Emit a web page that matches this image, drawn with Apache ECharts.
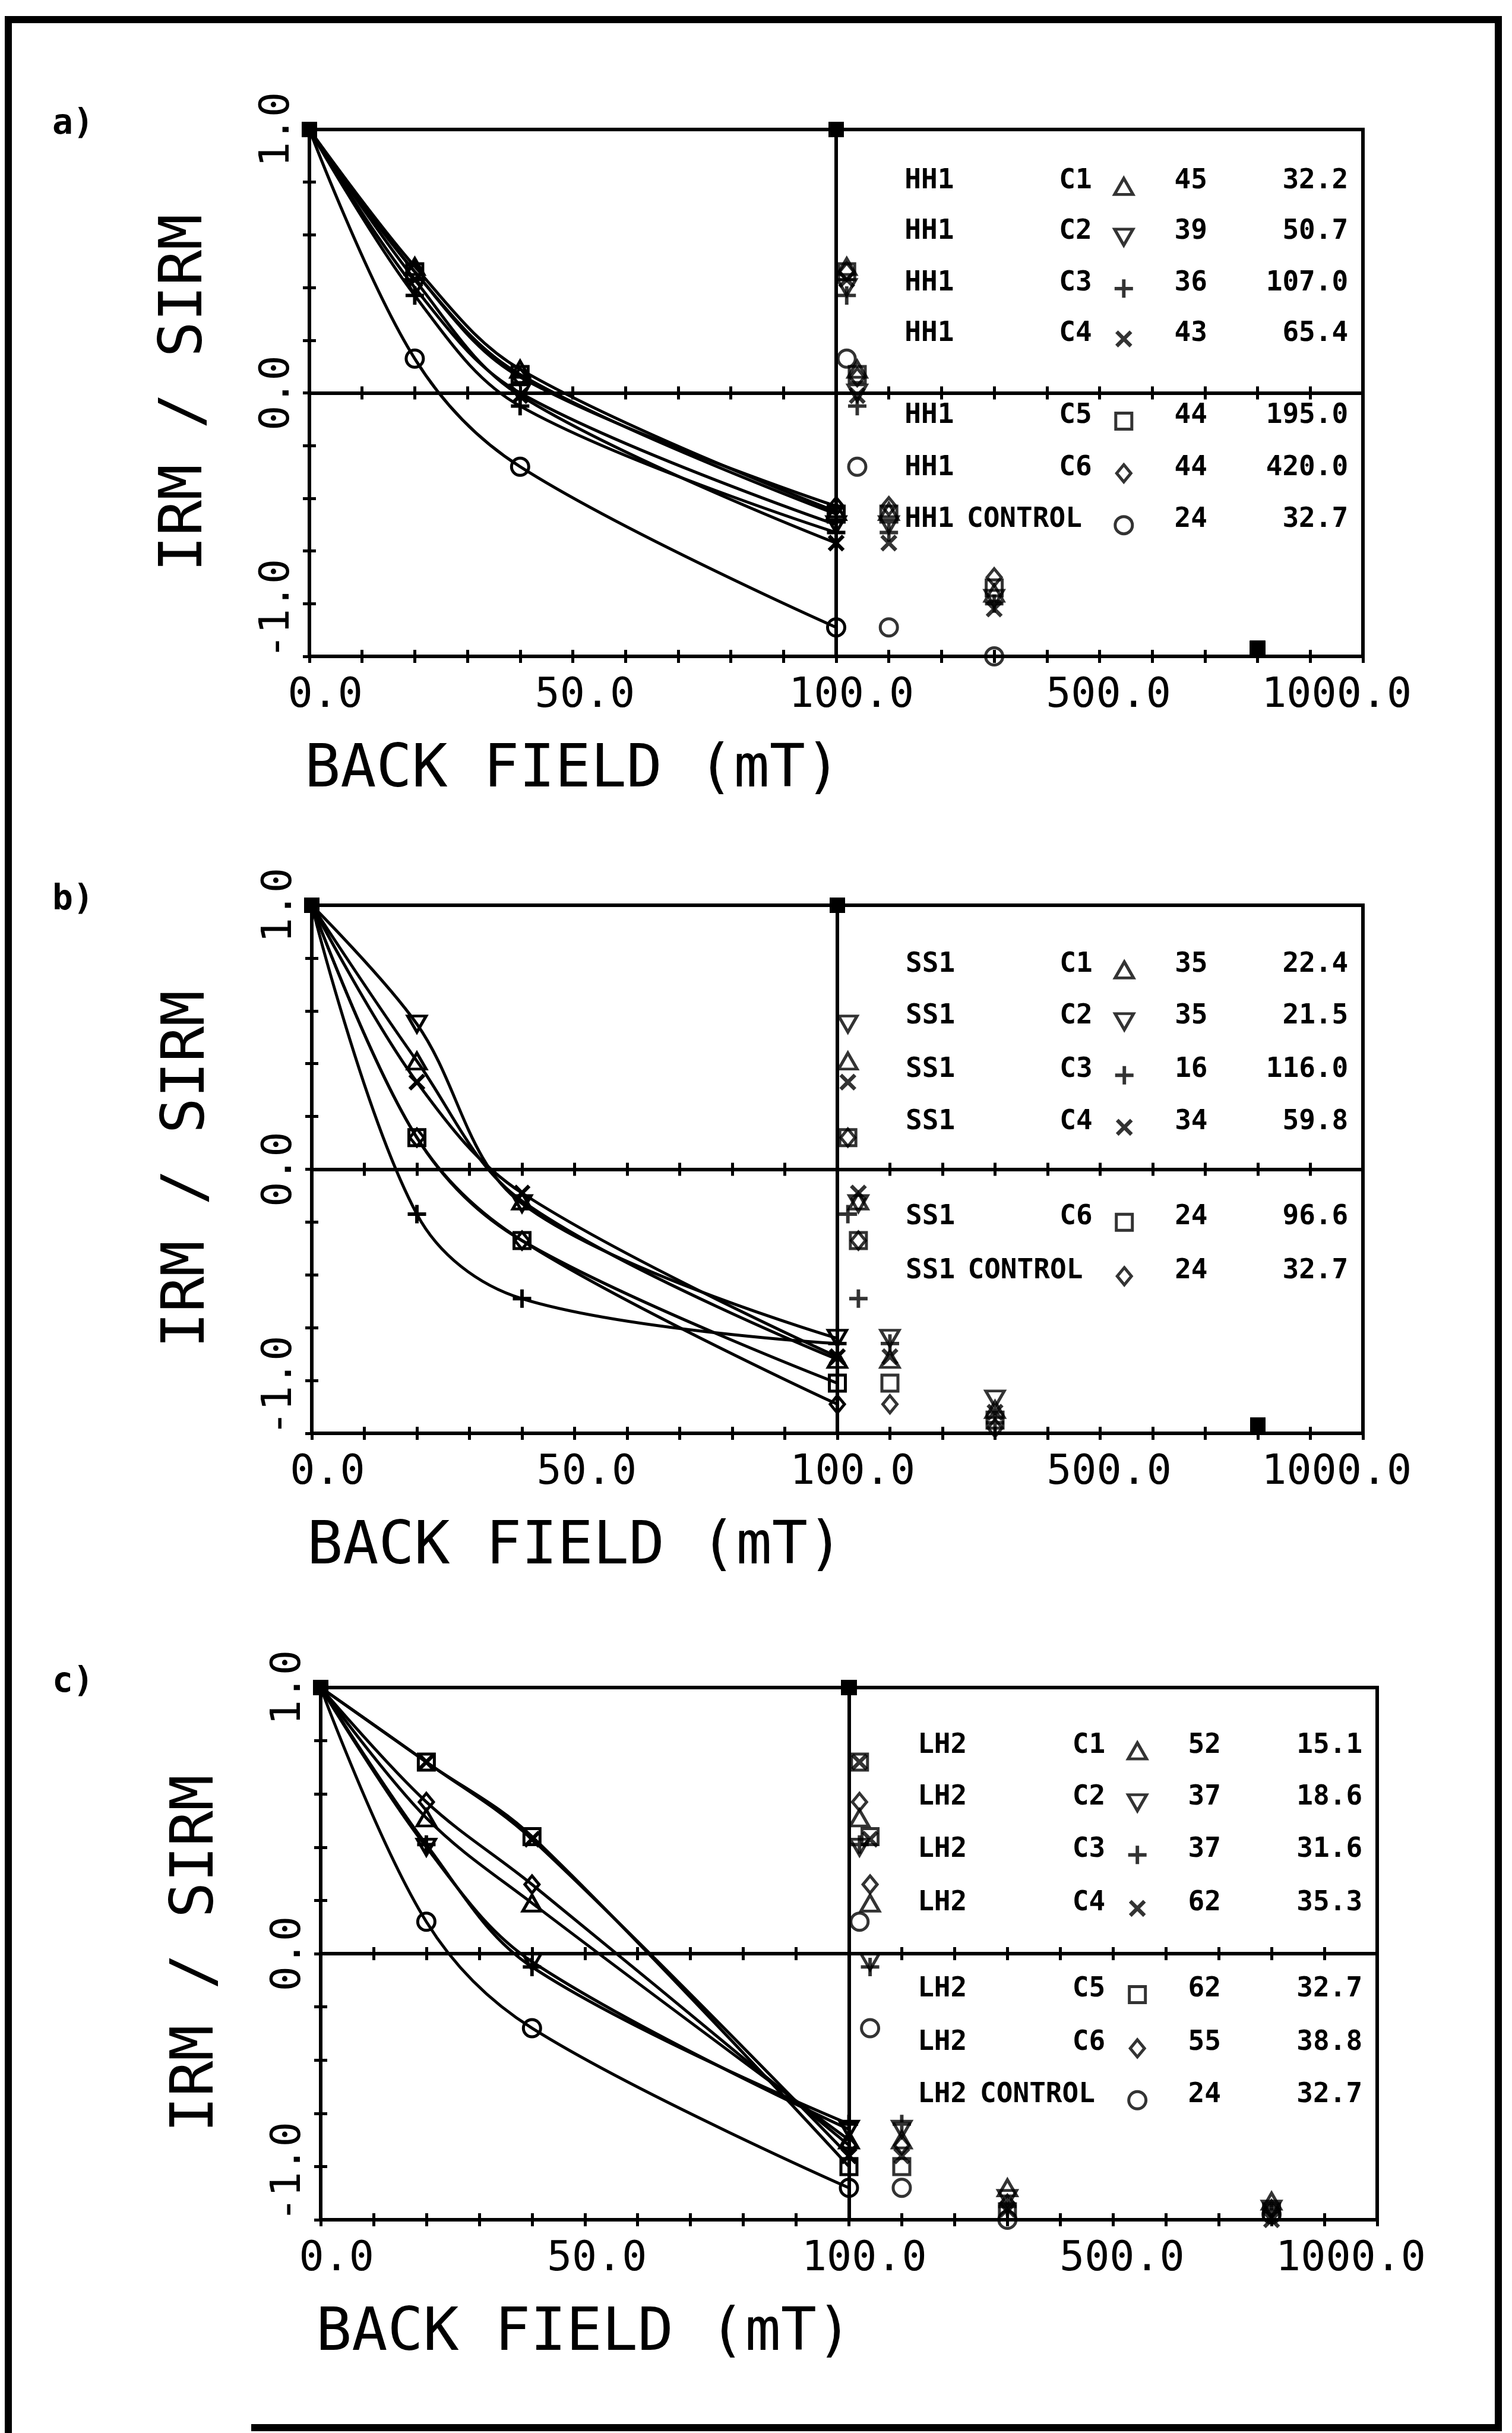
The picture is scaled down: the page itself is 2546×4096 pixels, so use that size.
<!DOCTYPE html>
<html><head><meta charset="utf-8">
<script src="https://cdn.jsdelivr.net/npm/echarts@6/dist/echarts.min.js"></script>
<style>html,body{margin:0;padding:0;background:#fff}#c{width:2546px;height:4096px}</style>
</head><body><div id="c"></div>
<script>
// ================= DATA =================
// back-field steps (mT); <=100 mT plotted on the linear 0-100 scale (with curves),
// all steps re-plotted as points on the 0-1000 mT scale to the right of the 100 line
const fields = [0, 20, 40, 100, 300, 800];
const xTickValues = [0, 50, 100, 500, 1000];
const xTickScale  = ['L', 'L', 'L', 'R', 'R'];
const xTickLabels = ['0.0', '50.0', '100.0', '500.0', '1000.0'];
const yTickValues = [-1, 0, 1];
const yTickLabels = ['-1.0', '0.0', '1.0'];

// ---- panel a) HH1 ----
const hh1Codes   = ['C1', 'C2', 'C3', 'C4', 'C5', 'C6', 'CONTROL'];
const hh1Symbols = ['up', 'down', 'plus', 'cross', 'square', 'diamond', 'circle'];
const hh1Counts  = [45, 39, 36, 43, 44, 44, 24];
const hh1Values  = [32.2, 50.7, 107.0, 65.4, 195.0, 420.0, 32.7];
const hh1_C1 = [1.0, 0.48, 0.09, -0.45, -0.76, -0.97];
const hh1_C2 = [1.0, 0.40, 0.00, -0.50, -0.78, -0.97];
const hh1_C3 = [1.0, 0.37, -0.05, -0.53, -0.80, -0.97];
const hh1_C4 = [1.0, 0.43, -0.01, -0.57, -0.82, -0.97];
const hh1_C5 = [1.0, 0.46, 0.07, -0.46, -0.74, -0.97];
const hh1_C6 = [1.0, 0.46, 0.06, -0.43, -0.70, -0.97];
const hh1_CTRL = [1.0, 0.13, -0.28, -0.89, -1.0, -0.97];

// ---- panel b) SS1 ----
const ss1Codes   = ['C1', 'C2', 'C3', 'C4', 'C6', 'CONTROL'];
const ss1Symbols = ['up', 'down', 'plus', 'cross', 'square', 'diamond'];
const ss1Counts  = [35, 35, 16, 34, 24, 24];
const ss1Values  = [22.4, 21.5, 116.0, 59.8, 96.6, 32.7];
const ss1_C1 = [1.0, 0.41, -0.12, -0.72, -0.91, -0.97];
const ss1_C2 = [1.0, 0.55, -0.13, -0.64, -0.87, -0.97];
const ss1_C3 = [1.0, -0.17, -0.49, -0.66, -0.96, -0.97];
const ss1_C4 = [1.0, 0.33, -0.09, -0.71, -0.92, -0.97];
const ss1_C6 = [1.0, 0.12, -0.27, -0.81, -0.95, -0.97];
const ss1_CTRL = [1.0, 0.12, -0.27, -0.89, -0.98, -0.97];

// ---- panel c) LH2 ----
const lh2Codes   = ['C1', 'C2', 'C3', 'C4', 'C5', 'C6', 'CONTROL'];
const lh2Symbols = ['up', 'down', 'plus', 'cross', 'square', 'diamond', 'circle'];
const lh2Counts  = [52, 37, 37, 62, 62, 55, 24];
const lh2Values  = [15.1, 18.6, 31.6, 35.3, 32.7, 38.8, 32.7];
const lh2_C1 = [1.0, 0.51, 0.19, -0.70, -0.88, -0.93];
const lh2_C2 = [1.0, 0.40, -0.03, -0.66, -0.92, -0.96];
const lh2_C3 = [1.0, 0.41, -0.05, -0.64, -0.95, -0.97];
const lh2_C4 = [1.0, 0.72, 0.43, -0.76, -0.96, -1.0];
const lh2_C5 = [1.0, 0.72, 0.44, -0.80, -0.97, -0.97];
const lh2_C6 = [1.0, 0.57, 0.26, -0.72, -0.94, -0.96];
const lh2_CTRL = [1.0, 0.12, -0.28, -0.88, -1.0, -0.98];

const panels = [
  {tag: 'a)', sample: 'HH1', codes: hh1Codes, symbols: hh1Symbols, counts: hh1Counts, values: hh1Values,
   series: [hh1_C1, hh1_C2, hh1_C3, hh1_C4, hh1_C5, hh1_C6, hh1_CTRL]},
  {tag: 'b)', sample: 'SS1', codes: ss1Codes, symbols: ss1Symbols, counts: ss1Counts, values: ss1Values,
   series: [ss1_C1, ss1_C2, ss1_C3, ss1_C4, ss1_C6, ss1_CTRL]},
  {tag: 'c)', sample: 'LH2', codes: lh2Codes, symbols: lh2Symbols, counts: lh2Counts, values: lh2Values,
   series: [lh2_C1, lh2_C2, lh2_C3, lh2_C4, lh2_C5, lh2_C6, lh2_CTRL]},
];

// ================= LAYOUT / STYLE =================
const MONO = '"DejaVu Sans Mono", "Liberation Mono", monospace';
const BOX = [
  {left: 521, top: 218, width: 1774, height: 887},
  {left: 525, top: 1524, width: 1770, height: 889},
  {left: 540, top: 2841, width: 1779, height: 896},
];
const LABEL_NUDGE = [3.0, 2.3, 2.9, 1.7, -5.0];
const Y_LABEL_POS = [-0.82, 0, 1];
const LEGEND_ROWS = [
  [0.804, 0.611, 0.416, 0.225, -0.087, -0.285, -0.482],
  [0.775, 0.579, 0.376, 0.179, -0.181, -0.385],
  [0.782, 0.587, 0.391, 0.19, -0.134, -0.336, -0.531],
];
const LEGEND_COLS = {name: 113, control: 124.8, code: 142.3, symbol: 154.6, count: 164.2, value: 197.2};

const PLUS = 'path://M-1.9,-10L1.9,-10L1.9,-1.9L10,-1.9L10,1.9L1.9,1.9L1.9,10L-1.9,10L-1.9,1.9L-10,1.9L-10,-1.9L-1.9,-1.9Z';
const SYM = {
  up:      {symbol: 'triangle', rotate: 0,   size: [31, 27], fill: false},
  down:    {symbol: 'triangle', rotate: 180, size: [31, 27], fill: false},
  plus:    {symbol: PLUS,       rotate: 0,   size: 31,       fill: true},
  cross:   {symbol: PLUS,       rotate: 45,  size: 34,       fill: true},
  square:  {symbol: 'rect',     rotate: 0,   size: 27,       fill: false},
  diamond: {symbol: 'diamond',  rotate: 0,   size: [24, 29], fill: false},
  circle:  {symbol: 'circle',   rotate: 0,   size: 29,       fill: false},
};

function toDisp(f, scale) { return scale === 'L' ? f : 100 + f / 10; }
const xLabelPos = xTickValues.map((v, i) => +(toDisp(v, xTickScale[i]) + LABEL_NUDGE[i]).toFixed(2));

function item(x, v, sym, solid) {
  if (solid) {
    return {value: [x, v], symbol: 'rect', symbolSize: 26, symbolRotate: 0,
            itemStyle: {color: '#000', borderWidth: 0}};
  }
  return {value: [x, v], symbol: sym.symbol, symbolSize: sym.size, symbolRotate: sym.rotate,
    itemStyle: sym.fill ? {color: '#000', borderWidth: 0}
                        : {color: 'rgba(0,0,0,0)', borderColor: '#000', borderWidth: 5}};
}

const grids = [], xAxes = [], yAxes = [], series = [], graphics = [];
const AXW = 6, TICKL = 11, TICKW = 5;

panels.forEach((P, p) => {
  const b = BOX[p];
  grids.push({left: b.left, top: b.top, width: b.width, height: b.height,
              show: true, borderColor: '#000', borderWidth: AXW, backgroundColor: 'transparent'});
  const xBase = {gridIndex: p, type: 'value', min: 0, max: 200, interval: 10, position: 'bottom',
                 splitLine: {show: false}};
  xAxes.push(Object.assign({}, xBase, {
    axisLine: {show: true, onZero: false, lineStyle: {color: '#000', width: AXW}},
    axisTick: {show: true, inside: false, length: TICKL, lineStyle: {color: '#000', width: TICKW}},
    axisLabel: {show: true, customValues: xLabelPos, margin: 32,
      formatter: v => xTickLabels[xLabelPos.indexOf(v)] || '',
      fontFamily: MONO, fontSize: 70, color: '#000'}
  }));
  xAxes.push(Object.assign({}, xBase, {
    axisLine: {show: false, onZero: false},
    axisTick: {show: true, inside: true, length: TICKL, lineStyle: {color: '#000', width: TICKW}},
    axisLabel: {show: false}
  }));
  xAxes.push(Object.assign({}, xBase, {
    axisLine: {show: true, onZero: true, lineStyle: {color: '#000', width: AXW}},
    axisTick: {show: true, inside: false, length: TICKL, lineStyle: {color: '#000', width: TICKW}},
    axisLabel: {show: false}
  }));
  xAxes.push(Object.assign({}, xBase, {
    axisLine: {show: false, onZero: true},
    axisTick: {show: true, inside: true, length: TICKL, lineStyle: {color: '#000', width: TICKW}},
    axisLabel: {show: false}
  }));
  const yBase = {gridIndex: p, type: 'value', min: -1, max: 1, interval: 0.2, position: 'left',
                 splitLine: {show: false}};
  yAxes.push(Object.assign({}, yBase, {
    axisLine: {show: true, onZero: false, lineStyle: {color: '#000', width: AXW}},
    axisTick: {show: true, inside: false, length: TICKL, lineStyle: {color: '#000', width: TICKW}},
    axisLabel: {show: true, customValues: Y_LABEL_POS, rotate: 90, margin: 18,
      formatter: v => yTickLabels[Y_LABEL_POS.indexOf(v)] || '',
      fontFamily: MONO, fontSize: 70, color: '#000'},
    name: 'IRM / SIRM', nameLocation: 'middle', nameGap: 158,
    nameTextStyle: {fontFamily: MONO, fontSize: 100, color: '#000'}
  }));
  yAxes.push(Object.assign({}, yBase, {
    axisLine: {show: false, onZero: false},
    axisTick: {show: true, inside: true, length: TICKL, lineStyle: {color: '#000', width: TICKW}},
    axisLabel: {show: false}
  }));

  const xi = p * 4, yi = p * 2;
  const coincident = fields.map((f, i) => P.series.every(s => s[i] === P.series[0][i]));
  P.series.forEach((vals, k) => {
    const sym = SYM[P.symbols[k]];
    const lineData = [];
    fields.forEach((f, i) => { if (f <= 100) lineData.push(item(toDisp(f, 'L'), vals[i], sym, coincident[i])); });
    const s = {type: 'line', xAxisIndex: xi, yAxisIndex: yi, data: lineData, smooth: 0.35,
      showAllSymbol: true, lineStyle: {color: '#000', width: 5}, silent: true, z: 2};
    if (k === 0) {
      s.markLine = {silent: true, symbol: 'none', label: {show: false},
        lineStyle: {color: '#000', width: AXW, type: 'solid'}, data: [{xAxis: 100}]};
    }
    series.push(s);
    series.push({type: 'scatter', xAxisIndex: xi, yAxisIndex: yi, silent: true, z: 3,
      data: fields.map((f, i) => item(toDisp(f, 'R'), vals[i], sym, coincident[i]))});
  });

  // legend table
  const px = d => b.left + d / 200 * b.width;
  const py = v => b.top + (1 - v) / 2 * b.height;
  const rows = LEGEND_ROWS[p];
  series.push({type: 'scatter', xAxisIndex: xi, yAxisIndex: yi, silent: true, z: 3,
    data: P.symbols.map((sn, k) => item(LEGEND_COLS.symbol, rows[k] - 0.02, SYM[sn], false))});
  const LF = 'bold 46px ' + MONO;
  const txt = (x, y, text, align) => graphics.push({type: 'text', x: x, y: y, silent: true,
    style: {text: text, font: LF, fill: '#000', align: align, verticalAlign: 'middle'}});
  P.codes.forEach((code, k) => {
    const y = py(rows[k]);
    txt(px(LEGEND_COLS.name), y, P.sample, 'left');
    if (code === 'CONTROL') txt(px(LEGEND_COLS.control), y, code, 'left');
    else txt(px(LEGEND_COLS.code), y, code, 'left');
    txt(px(LEGEND_COLS.count), y, String(P.counts[k]), 'left');
    txt(px(LEGEND_COLS.value), y, P.values[k].toFixed(1), 'right');
  });
  graphics.push({type: 'text', x: b.left - 8, y: b.top + b.height + 193, silent: true,
    style: {text: 'BACK FIELD (mT)', font: '100px ' + MONO, fill: '#000', align: 'left', verticalAlign: 'middle'}});
  graphics.push({type: 'text', x: 88, y: b.top - 8, silent: true,
    style: {text: P.tag, font: 'bold 58px ' + MONO, fill: '#000', align: 'left', verticalAlign: 'middle'}});
});

// outer frame
graphics.push({type: 'polyline', silent: true, shape: {points: [[423, 4087], [2523, 4087], [2523, 33], [14, 33], [14, 4096]]},
  style: {stroke: '#000', lineWidth: 12, fill: null}});

const chart = echarts.init(document.getElementById('c'), null, {renderer: 'canvas'});
chart.setOption({
  animation: false,
  backgroundColor: '#fff',
  grid: grids, xAxis: xAxes, yAxis: yAxes, series: series, graphic: graphics
});
</script></body></html>
